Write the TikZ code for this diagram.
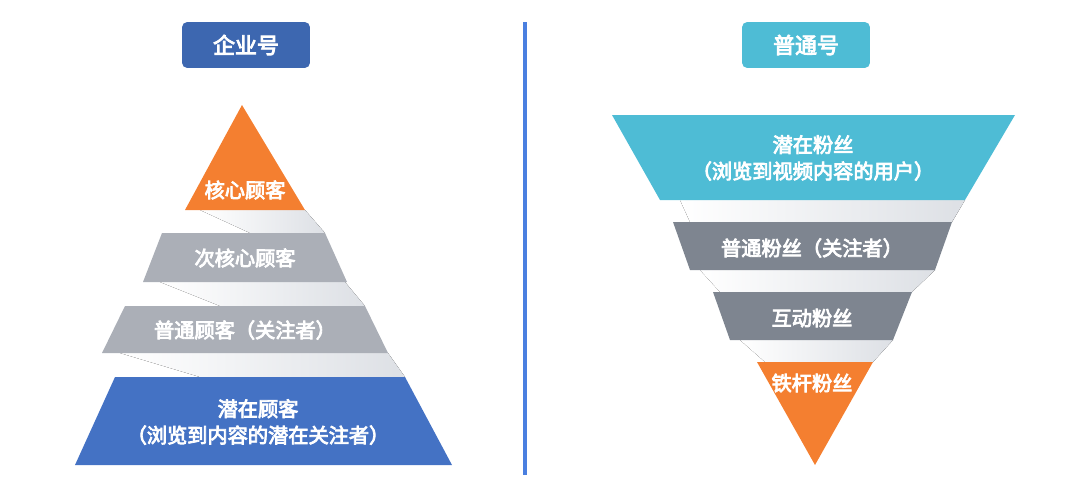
\documentclass[tikz,border=0pt]{standalone}
\usepackage{fontspec}
\setmainfont{Noto Sans CJK SC}[AutoFakeBold=4]
\usepackage{tikz}
\usetikzlibrary{positioning}

\definecolor{corange}{HTML}{F47F30}
\definecolor{cgray}{HTML}{ABAFB7}
\definecolor{cdark}{HTML}{7E8590}
\definecolor{cblue}{HTML}{4472C4}
\definecolor{cteal}{HTML}{4EBCD5}
\definecolor{cshade}{HTML}{DDE0E5}
\definecolor{cline}{HTML}{4A7FE0}

\begin{document}
\begin{tikzpicture}[
                x=0.02cm, y=-0.02cm,
                title/.style = {
                    rounded corners = 3pt,
                    minimum width = 2.56cm,
                    minimum height = 0.92cm,
                    text = white,
                    font = \fontsize{12.5}{14}\selectfont\bfseries
                },
                layer/.style = {
                    text = white,
                    align = center,
                    font = \fontsize{11.5}{15}\selectfont\bfseries
                },
                ribbon/.style = {
                    left color = white,
                    right color = cshade
                }
            ]
            \useasboundingbox (0,0) rectangle (1080,477);
            %
            \node[title, fill=cblue!90!black] (t1) at (246,45) {企业号};
            \node[title, fill=cteal] (t2) at (806,45) {普通号};
            \draw[line width = 2.5pt, cline] (525,22) -- (525,475);
            %
            % left pyramid
            \fill[ribbon] (200,210) -- (305,210) -- (325,233) -- (250,233) -- cycle;
            \fill[ribbon] (160,282) -- (345,282) -- (365,306) -- (220,306) -- cycle;
            \fill[ribbon] (120,353) -- (388,353) -- (405,377) -- (200,377) -- cycle;
            \fill[corange] (242,105) -- (305,210) -- (185,210) -- cycle;
            \fill[cgray] (162,233) -- (325,233) -- (347,282) -- (143,282) -- cycle;
            \fill[cgray] (125,306) -- (365,306) -- (388,353) -- (102,353) -- cycle;
            \fill[cblue] (115,377) -- (405,377) -- (452,465) -- (75,465) -- cycle;
            %
            \node[layer] (l1) at (245,190) {核心顾客};
            \node[layer] (l2) at (245,258) {次核心顾客};
            \node[layer] (l3) at (245,330) {普通顾客（关注者）};
            \node[layer] (l4) at (258,422) {潜在顾客\\（浏览到内容的潜在关注者）};
            %
            % right funnel
            \fill[ribbon] (680,200) -- (965,200) -- (952,222) -- (690,222) -- cycle;
            \fill[ribbon] (700,270) -- (935,270) -- (912,292) -- (720,292) -- cycle;
            \fill[ribbon] (740,340) -- (893,340) -- (873,362) -- (765,362) -- cycle;
            \fill[cteal] (612,115) -- (1015,115) -- (965,200) -- (660,200) -- cycle;
            \fill[cdark] (673,222) -- (952,222) -- (935,270) -- (690,270) -- cycle;
            \fill[cdark] (713,292) -- (912,292) -- (893,340) -- (730,340) -- cycle;
            \fill[corange] (757,362) -- (873,362) -- (815,465) -- cycle;
            %
            \node[layer] (r1) at (813,158) {潜在粉丝\\（浏览到视频内容的用户）};
            \node[layer] (r2) at (812,248) {普通粉丝（关注者）};
            \node[layer] (r3) at (812,318) {互动粉丝};
            \node[layer] (r4) at (812,383) {铁杆粉丝};
        \end{tikzpicture}
\end{document}
